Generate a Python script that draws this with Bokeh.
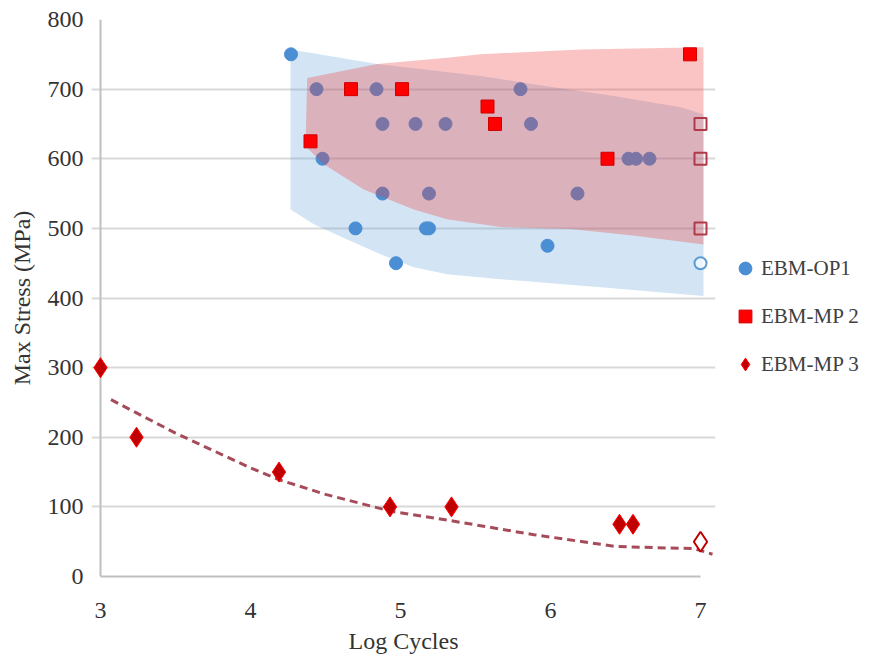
from bokeh.plotting import figure
from bokeh.models import Legend, LegendItem, Range1d, FixedTicker, Span
from bokeh.embed import file_html
from bokeh.resources import INLINE

# ---- data ----
x_ticks = [3, 4, 5, 6, 7]
y_ticks = [0, 100, 200, 300, 400, 500, 600, 700, 800]

op1_x = [4.27, 4.44, 4.84, 5.80, 4.88, 5.10, 5.30, 5.87, 4.48, 6.52, 6.57, 6.66,
         4.88, 5.19, 6.18, 4.70, 5.17, 5.19, 5.98, 4.97]
op1_y = [750, 700, 700, 700, 650, 650, 650, 650, 600, 600, 600, 600,
         550, 550, 550, 500, 500, 500, 475, 450]
op1_runout_x = [7.0]
op1_runout_y = [450]

mp2_x = [4.40, 4.67, 5.01, 5.58, 5.63, 6.38, 6.93]
mp2_y = [625, 700, 700, 675, 650, 600, 750]
mp2_runout_x = [7.0, 7.0, 7.0]
mp2_runout_y = [650, 600, 500]

mp3_x = [3.0, 3.24, 4.19, 4.93, 5.34, 6.46, 6.55]
mp3_y = [300, 200, 150, 100, 100, 75, 75]
mp3_runout_x = [7.0]
mp3_runout_y = [50]

trend_x = [3.07, 3.24, 3.5, 4.0, 4.19, 4.5, 4.93, 5.34, 5.89, 6.44, 6.96, 7.08]
trend_y = [254, 235, 206, 156, 139, 118, 94, 80, 60, 43, 40, 32]

# scatter bands (upper / lower edges)
blue_up_x = [4.267, 4.845, 5.533, 5.978, 6.422, 6.867, 7.02]
blue_up_y = [757, 736, 719, 704, 690, 674, 664]
blue_lo_x = [4.267, 4.422, 4.645, 4.867, 5.089, 5.311, 5.667, 6.355, 7.02]
blue_lo_y = [527, 506, 484, 463, 444, 434, 427, 415, 403]

red_up_x = [4.378, 4.845, 5.311, 5.533, 6.2, 7.02]
red_up_y = [716, 736, 745, 750, 757, 760]
red_lo_x = [4.367, 4.489, 4.755, 5.089, 5.311, 5.667, 6.133, 6.578, 7.02]
red_lo_y = [618, 592, 556, 527, 513, 502, 499, 489, 477]

series_names = ["EBM-OP1", "EBM-MP 2", "EBM-MP 3"]

FONT = "Liberation Serif"

p = figure(frame_width=624, frame_height=557, output_backend="svg", toolbar_location=None,
           x_range=Range1d(2.94, 7.1), y_range=Range1d(0, 800),
           min_border_left=91, min_border_right=142, min_border_top=19,
           min_border_bottom=74)
p.outline_line_color = None
p.background_fill_color = "white"
p.border_fill_color = "white"

# axes
p.xaxis.ticker = FixedTicker(ticks=x_ticks)
p.yaxis.ticker = FixedTicker(ticks=y_ticks)
for ax in (p.xaxis[0], p.yaxis[0]):
    ax.axis_line_color = "#BFBFBF"
    ax.axis_line_width = 2
    ax.major_tick_line_color = None
    ax.minor_tick_line_color = None
    ax.major_tick_out = 0
    ax.major_tick_in = 0
    ax.major_label_text_font = FONT
    ax.major_label_text_font_size = "24px"
    ax.major_label_text_color = "#333333"
    ax.axis_label_text_font = FONT
    ax.axis_label_text_font_size = "24px"
    ax.axis_label_text_font_style = "normal"
    ax.axis_label_text_color = "#333333"
p.xaxis.bounds = (x_ticks[0], x_ticks[-1])
p.xaxis.axis_label = "Log Cycles"
p.xaxis.major_label_standoff = 26
p.xaxis.axis_label_standoff = 7
p.yaxis.axis_label = "Max Stress (MPa)"
p.yaxis.axis_line_color = None
p.yaxis.major_label_standoff = 8
p.yaxis.axis_label_standoff = 10

# y axis line drawn at x = 3
p.add_layout(Span(location=x_ticks[0], dimension="height", line_color="#BFBFBF",
                  line_width=2, level="underlay"))

p.xgrid.grid_line_color = None
p.ygrid.grid_line_color = "#D9D9D9"
p.ygrid.grid_line_width = 2
p.ygrid.bounds = (x_ticks[0], x_ticks[-1])

# blue band
p.patch(blue_up_x + blue_lo_x[::-1], blue_up_y + blue_lo_y[::-1],
        fill_color="#5B9BD5", fill_alpha=0.27, line_color=None)

# EBM-OP1
r_op1 = p.scatter(op1_x, op1_y, marker="circle", size=13,
                  fill_color="#4A8ED4", line_color="#4A8ED4")
p.scatter(op1_runout_x, op1_runout_y, marker="circle", size=12,
          fill_color="white", fill_alpha=0.6, line_color="#5B9BD5", line_width=2)

# red band
p.patch(red_up_x + red_lo_x[::-1], red_up_y + red_lo_y[::-1],
        fill_color="#F03C3C", fill_alpha=0.3, line_color=None)

# EBM-MP 2
r_mp2 = p.scatter(mp2_x, mp2_y, marker="square", size=13,
                  fill_color="#FF0000", line_color="#D00000")
p.scatter(mp2_runout_x, mp2_runout_y, marker="square", size=12,
          fill_color=None, line_color="#B03A48", line_width=2)

# trend line
p.line(trend_x, trend_y, line_color="#A64B5A", line_width=3, line_dash="8 5")

# EBM-MP 3
r_mp3 = p.scatter(mp3_x, mp3_y, marker="diamond", size=20,
                  fill_color="#C00000", line_color="#FF0000", line_width=1)
p.scatter(mp3_runout_x, mp3_runout_y, marker="diamond", size=20,
          fill_color="white", line_color="#C00000", line_width=2)

legend = Legend(
    items=[LegendItem(label=series_names[0], renderers=[r_op1]),
           LegendItem(label=series_names[1], renderers=[r_mp2]),
           LegendItem(label=series_names[2], renderers=[r_mp3])],
    location=(14, 196),
    glyph_width=32, glyph_height=32, spacing=16, label_standoff=-9,
    padding=0, margin=0, border_line_color=None, background_fill_alpha=0,
    label_text_font=FONT, label_text_font_size="21px", label_text_color="#404040",
)
p.add_layout(legend, "right")

open("out.html", "w").write(file_html(p, INLINE))
